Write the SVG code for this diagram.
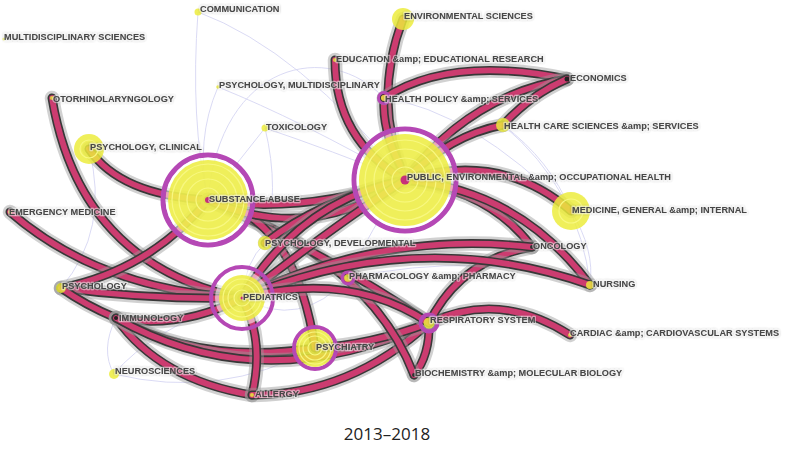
<svg xmlns="http://www.w3.org/2000/svg" xmlns:xlink="http://www.w3.org/1999/xlink" width="786" height="463" viewBox="0 0 786 463">
<defs>
<style>
.h{fill:none;stroke:#9a9a9a;stroke-opacity:.45;stroke-width:14.5;stroke-linecap:round}
.o{fill:none;stroke:#383838;stroke-width:9;stroke-linecap:round}
.p{fill:none;stroke:#cc3c70;stroke-width:5.8;stroke-linecap:round}
.t{fill:none;stroke:#d6d6f3;stroke-width:0.9}
.y{fill:#ecec3a;fill-opacity:.84}
.w{fill:#fff;fill-opacity:.55}
.r{fill:none;stroke:#b548b5}
.ring{fill:none;stroke:#f8f880;stroke-width:1.2}
.c{fill:#c8307a}
.lb{font-family:"Liberation Sans",Arial,sans-serif;font-weight:bold;font-size:9.2px;fill:#474747;stroke:#fff;stroke-opacity:.45;stroke-width:2.4;stroke-linejoin:round;paint-order:stroke;filter:url(#sh)}
.title{font-family:"Open Sans","Liberation Sans",sans-serif;font-size:17px;fill:#222}
</style>
<filter id="sh" x="-10%" y="-60%" width="120%" height="220%">
<feGaussianBlur in="SourceAlpha" stdDeviation="1.3"/>
<feComponentTransfer><feFuncA type="linear" slope="0.4"/></feComponentTransfer>
<feMerge><feMergeNode/><feMergeNode in="SourceGraphic"/></feMerge>
</filter>
<path id="e1" d="M403,19 Q372,100 405,180"/>
<path id="e2" d="M335,60 Q335,140 405,180"/>
<path id="e3" d="M384,98 Q382,130 400,165"/>
<path id="e4" d="M384,98 Q450,55 567,79"/>
<path id="e5" d="M405,180 Q470,95 567,79"/>
<path id="e6" d="M503,125 Q530,95 567,79"/>
<path id="e7" d="M405,180 Q450,135 503,125"/>
<path id="e8" d="M405,180 Q500,150 571,211"/>
<path id="e9" d="M405,180 Q520,190 590,285"/>
<path id="e10" d="M405,180 Q490,190 532,247"/>
<path id="e11" d="M52,98 Q80,265 242,298"/>
<path id="e12" d="M89,149 Q120,195 208,200"/>
<path id="e13" d="M10,212 Q100,290 242,298"/>
<path id="e14" d="M61,288 Q150,270 208,200"/>
<path id="e15" d="M61,288 Q150,300 242,298"/>
<path id="e16" d="M61,288 Q85,305 116,318"/>
<path id="e17" d="M116,318 Q160,380 252,395"/>
<path id="e18" d="M116,318 Q180,330 242,298"/>
<path id="e19" d="M116,318 Q200,365 315,348"/>
<path id="e20" d="M116,318 Q260,400 429,323"/>
<path id="e21" d="M242,298 Q265,340 252,395"/>
<path id="e22" d="M252,395 Q350,395 429,323"/>
<path id="e23" d="M315,348 Q370,345 429,323"/>
<path id="e24" d="M429,323 Q500,290 570,335"/>
<path id="e25" d="M429,323 Q430,355 414,375"/>
<path id="e26" d="M429,323 Q460,260 532,247"/>
<path id="e27" d="M242,298 Q350,270 429,323"/>
<path id="e28" d="M208,200 Q320,250 429,323"/>
<path id="e29" d="M208,200 Q295,215 315,348"/>
<path id="e30" d="M208,200 Q300,215 405,180"/>
<path id="e31" d="M208,200 Q310,245 405,180"/>
<path id="e32" d="M242,298 Q300,200 405,180"/>
<path id="e33" d="M242,298 Q335,225 405,180"/>
<path id="e34" d="M242,298 Q380,230 532,247"/>
<path id="e35" d="M242,298 Q420,225 590,285"/>
<path id="e36" d="M208,200 Q370,260 414,375"/>
<path id="e37" d="M265,243 Q320,200 405,180"/>
</defs>
<rect width="786" height="463" fill="#fff"/>
<g id="connectors">
<g id="thin">
<path class="t" d="M198,12 Q190,120 208,200"/>
<path class="t" d="M198,12 Q300,50 405,180"/>
<path class="t" d="M218,87 Q195,140 208,200"/>
<path class="t" d="M218,87 Q300,120 405,180"/>
<path class="t" d="M208,200 C220,60 330,40 384,98"/>
<path class="t" d="M265,128 L208,200"/>
<path class="t" d="M265,128 Q330,150 405,180"/>
<path class="t" d="M265,128 Q280,190 265,243"/>
<path class="t" d="M503,125 Q550,160 571,211"/>
<path class="t" d="M503,125 Q580,190 590,285"/>
<path class="t" d="M571,211 Q595,250 590,285"/>
<path class="t" d="M405,180 Q370,230 348,278"/>
<path class="t" d="M348,278 Q400,290 429,323"/>
<path class="t" d="M114,374 Q220,400 315,348"/>
<path class="t" d="M114,374 Q150,330 242,298"/>
<path class="t" d="M116,318 Q100,350 114,374"/>
<path class="t" d="M89,149 Q110,230 61,288"/>
<path class="t" d="M242,298 Q300,330 348,278"/>
<path class="t" d="M384,98 Q470,110 571,211"/>
<path class="t" d="M348,278 Q480,250 590,285"/>
<path class="t" d="M265,243 Q245,262 242,298" stroke="#f0b868"/>
</g>
<g id="thick">
<use class="h" href="#e1"/><use class="o" href="#e1"/><use class="p" href="#e1"/>
<use class="h" href="#e2"/><use class="o" href="#e2"/><use class="p" href="#e2"/>
<use class="h" href="#e3"/><use class="o" href="#e3"/><use class="p" href="#e3"/>
<use class="h" href="#e4"/><use class="o" href="#e4"/><use class="p" href="#e4"/>
<use class="h" href="#e5"/><use class="o" href="#e5"/><use class="p" href="#e5"/>
<use class="h" href="#e6"/><use class="o" href="#e6"/><use class="p" href="#e6"/>
<use class="h" href="#e7"/><use class="o" href="#e7"/><use class="p" href="#e7"/>
<use class="h" href="#e8"/><use class="o" href="#e8"/><use class="p" href="#e8"/>
<use class="h" href="#e10"/><use class="o" href="#e10"/><use class="p" href="#e10"/>
<use class="h" href="#e9"/><use class="o" href="#e9"/><use class="p" href="#e9"/>
<use class="h" href="#e11"/><use class="o" href="#e11"/><use class="p" href="#e11"/>
<use class="h" href="#e12"/><use class="o" href="#e12"/><use class="p" href="#e12"/>
<use class="h" href="#e13"/><use class="o" href="#e13"/><use class="p" href="#e13"/>
<use class="h" href="#e14"/><use class="o" href="#e14"/><use class="p" href="#e14"/>
<use class="h" href="#e15"/><use class="o" href="#e15"/><use class="p" href="#e15"/>
<use class="h" href="#e16"/><use class="o" href="#e16"/><use class="p" href="#e16"/>
<use class="h" href="#e17"/><use class="o" href="#e17"/><use class="p" href="#e17"/>
<use class="h" href="#e18"/><use class="o" href="#e18"/><use class="p" href="#e18"/>
<use class="h" href="#e19"/><use class="o" href="#e19"/><use class="p" href="#e19"/>
<use class="h" href="#e20"/><use class="o" href="#e20"/><use class="p" href="#e20"/>
<use class="h" href="#e21"/><use class="o" href="#e21"/><use class="p" href="#e21"/>
<use class="h" href="#e22"/><use class="o" href="#e22"/><use class="p" href="#e22"/>
<use class="h" href="#e23"/><use class="o" href="#e23"/><use class="p" href="#e23"/>
<use class="h" href="#e24"/><use class="o" href="#e24"/><use class="p" href="#e24"/>
<use class="h" href="#e25"/><use class="o" href="#e25"/><use class="p" href="#e25"/>
<use class="h" href="#e26"/><use class="o" href="#e26"/><use class="p" href="#e26"/>
<use class="h" href="#e36"/><use class="o" href="#e36"/><use class="p" href="#e36"/>
<use class="h" href="#e28"/><use class="o" href="#e28"/><use class="p" href="#e28"/>
<use class="h" href="#e29"/><use class="o" href="#e29"/><use class="p" href="#e29"/>
<use class="h" href="#e30"/><use class="o" href="#e30"/><use class="p" href="#e30"/>
<use class="h" href="#e31"/><use class="o" href="#e31"/><use class="p" href="#e31"/>
<use class="h" href="#e37"/><use class="o" href="#e37"/><use class="p" href="#e37"/>
<use class="h" href="#e32"/><use class="o" href="#e32"/><use class="p" href="#e32"/>
<use class="h" href="#e33"/><use class="o" href="#e33"/><use class="p" href="#e33"/>
<use class="h" href="#e34"/><use class="o" href="#e34"/><use class="p" href="#e34"/>
<use class="h" href="#e35"/><use class="o" href="#e35"/><use class="p" href="#e35"/>
<use class="h" href="#e27"/><use class="o" href="#e27"/><use class="p" href="#e27"/>
</g>
</g>
<g id="n-substance-abuse">
<circle class="r" cx="208" cy="200" r="45" stroke-width="5"/>
<circle class="w" cx="208" cy="200" r="42.5"/>
<circle class="y" cx="208" cy="200" r="40"/>
<circle class="ring" cx="208" cy="200" r="12"/><circle class="ring" cx="208" cy="200" r="21"/><circle class="ring" cx="208" cy="200" r="29"/><circle class="ring" cx="208" cy="200" r="36"/>
<circle class="c" cx="208" cy="200" r="3"/>
<text class="lb" x="209" y="202">SUBSTANCE ABUSE</text>
</g>
<g id="n-public-health">
<circle class="r" cx="405" cy="180" r="51" stroke-width="5"/>
<circle class="w" cx="405" cy="180" r="48.5"/>
<circle class="y" cx="405" cy="180" r="46"/>
<circle class="ring" cx="405" cy="180" r="13"/><circle class="ring" cx="405" cy="180" r="22"/><circle class="ring" cx="405" cy="180" r="31"/><circle class="ring" cx="405" cy="180" r="40"/>
<circle class="c" cx="405" cy="180" r="4.5"/>
<text class="lb" x="407" y="180">PUBLIC, ENVIRONMENTAL &amp;amp; OCCUPATIONAL HEALTH</text>
</g>
<g id="n-pediatrics">
<circle class="r" cx="242" cy="298" r="31" stroke-width="4"/>
<circle class="w" cx="242" cy="298" r="27"/>
<circle class="y" cx="242" cy="298" r="23"/>
<circle class="ring" cx="242" cy="298" r="8"/><circle class="ring" cx="242" cy="298" r="14"/><circle class="ring" cx="242" cy="298" r="19"/>
<circle class="c" cx="242" cy="298" r="1.5"/>
<text class="lb" x="243" y="300">PEDIATRICS</text>
</g>
<g id="n-psychiatry">
<circle class="r" cx="315" cy="348" r="21" stroke-width="4"/>
<circle class="y" cx="315" cy="348" r="19"/>
<circle class="ring" cx="315" cy="348" r="7"/><circle class="ring" cx="315" cy="348" r="12"/><circle class="ring" cx="315" cy="348" r="16"/>
<text class="lb" x="316" y="350">PSYCHIATRY</text>
</g>
<g id="n-respiratory">
<circle class="r" cx="429" cy="323" r="8.5" stroke-width="4"/>
<circle class="y" cx="429" cy="323" r="5.5"/>
<text class="lb" x="430" y="323">RESPIRATORY SYSTEM</text>
</g>
<g id="n-pharmacology">
<circle class="r" cx="348" cy="278" r="6" stroke-width="3"/>
<circle class="y" cx="348" cy="278" r="3.8"/>
<text class="lb" x="349" y="279">PHARMACOLOGY &amp;amp; PHARMACY</text>
</g>
<g id="n-health-policy">
<circle class="r" cx="384" cy="98" r="5.5" stroke-width="3"/>
<circle class="y" cx="384" cy="98" r="3"/>
<text class="lb" x="385" y="102">HEALTH POLICY &amp;amp; SERVICES</text>
</g>
<g id="n-environmental-sciences">
<circle class="y" cx="403" cy="19" r="11"/>
<text class="lb" x="404" y="19">ENVIRONMENTAL SCIENCES</text>
</g>
<g id="n-psychology-clinical">
<circle class="y" cx="89" cy="149" r="15"/>
<circle class="ring" cx="89" cy="149" r="9"/>
<text class="lb" x="90" y="150">PSYCHOLOGY, CLINICAL</text>
</g>
<g id="n-medicine-general">
<circle class="y" cx="571" cy="211" r="19"/>
<circle class="ring" cx="571" cy="211" r="12"/>
<text class="lb" x="572" y="213">MEDICINE, GENERAL &amp;amp; INTERNAL</text>
</g>
<g id="n-health-care-sciences">
<circle class="y" cx="503" cy="125" r="7"/>
<text class="lb" x="504" y="129">HEALTH CARE SCIENCES &amp;amp; SERVICES</text>
</g>
<g id="n-psychology-developmental">
<circle class="y" cx="265" cy="243" r="7"/>
<text class="lb" x="265" y="246">PSYCHOLOGY, DEVELOPMENTAL</text>
</g>
<g id="n-communication">
<circle class="y" cx="198" cy="12" r="3.5"/>
<text class="lb" x="200" y="12">COMMUNICATION</text>
</g>
<g id="n-multidisciplinary-sciences">
<circle class="y" cx="4" cy="39" r="1.5"/>
<text class="lb" x="4" y="40">MULTIDISCIPLINARY SCIENCES</text>
</g>
<g id="n-psychology-multidisciplinary">
<circle class="y" cx="218" cy="87" r="1.8"/>
<text class="lb" x="219" y="88">PSYCHOLOGY, MULTIDISCIPLINARY</text>
</g>
<g id="n-toxicology">
<circle class="y" cx="265" cy="128" r="3.5"/>
<text class="lb" x="266" y="130">TOXICOLOGY</text>
</g>
<g id="n-education">
<circle class="y" cx="335" cy="60" r="2"/>
<text class="lb" x="336" y="62">EDUCATION &amp;amp; EDUCATIONAL RESEARCH</text>
</g>
<g id="n-economics">
<circle cx="567" cy="79" r="2.5" fill="#222"/>
<text class="lb" x="570" y="81">ECONOMICS</text>
</g>
<g id="n-otorhinolaryngology">
<circle class="y" cx="52" cy="98" r="2"/>
<text class="lb" x="53" y="102">OTORHINOLARYNGOLOGY</text>
</g>
<g id="n-emergency-medicine">
<circle class="y" cx="10" cy="212" r="2"/>
<text class="lb" x="9" y="215">EMERGENCY MEDICINE</text>
</g>
<g id="n-oncology">
<circle cx="532" cy="247" r="2" fill="#333"/>
<text class="lb" x="533" y="249">ONCOLOGY</text>
</g>
<g id="n-nursing">
<circle class="y" cx="590" cy="285" r="4"/>
<text class="lb" x="593" y="287">NURSING</text>
</g>
<g id="n-psychology">
<circle class="y" cx="61" cy="288" r="5"/>
<text class="lb" x="62" y="289">PSYCHOLOGY</text>
</g>
<g id="n-immunology">
<circle cx="116" cy="318" r="2" fill="#222"/>
<text class="lb" x="119" y="321">IMMUNOLOGY</text>
</g>
<g id="n-cardiac">
<circle class="y" cx="570" cy="335" r="2"/>
<text class="lb" x="570" y="336">CARDIAC &amp;amp; CARDIOVASCULAR SYSTEMS</text>
</g>
<g id="n-neurosciences">
<circle class="y" cx="114" cy="374" r="5"/>
<text class="lb" x="115" y="374">NEUROSCIENCES</text>
</g>
<g id="n-biochemistry">
<circle cx="414" cy="375" r="2" fill="#333"/>
<text class="lb" x="415" y="376">BIOCHEMISTRY &amp;amp; MOLECULAR BIOLOGY</text>
</g>
<g id="n-allergy">
<circle class="y" cx="252" cy="395" r="2"/>
<text class="lb" x="255" y="397">ALLERGY</text>
</g>
<text class="title" x="387" y="440" text-anchor="middle">2013–2018</text>
</svg>
